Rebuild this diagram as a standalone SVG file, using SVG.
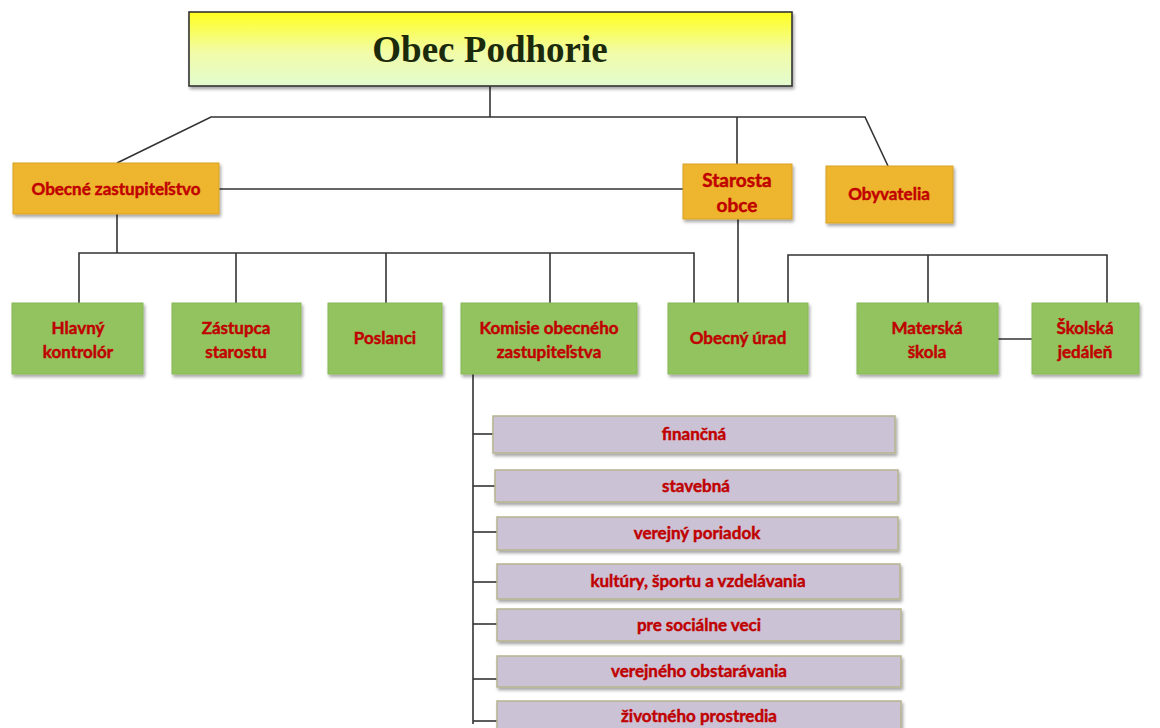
<svg xmlns="http://www.w3.org/2000/svg" width="1160" height="728" viewBox="0 0 1160 728">
<defs>
  <linearGradient id="gTitle" x1="0" y1="0" x2="0" y2="1">
    <stop offset="0" stop-color="#ffff1e"/>
    <stop offset="0.55" stop-color="#f2fca8"/>
    <stop offset="1" stop-color="#e2fbcf"/>
  </linearGradient>
  <filter id="sh" x="-10%" y="-20%" width="120%" height="150%">
    <feDropShadow dx="1.5" dy="2.5" stdDeviation="1.8" flood-color="#000" flood-opacity="0.35"/>
  </filter>
</defs>
<style>
  .ln{stroke:#333;stroke-width:1.6;fill:none}
  .org{fill:#eeb52e;stroke:#d7a227;stroke-width:1}
  .grn{fill:#92c35e;stroke:#86b856;stroke-width:1}
  .pur{fill:#cbc3d5;stroke:#b7b48e;stroke-width:1.5}
  .t{font-family:Lato,"Liberation Sans",sans-serif;font-weight:bold;fill:#c00000;stroke:#c00000;stroke-width:0.45;text-anchor:middle}
  .t17{font-size:17px}
  .t18{font-size:19px}
  .tp{font-size:17px}
  .title{font-family:"Liberation Serif",serif;font-weight:bold;font-size:37px;fill:#1c2a0c;text-anchor:middle}
</style>
<rect width="1160" height="728" fill="#fff"/>

<g id="connectors">
  <polyline class="ln" points="490,86 490,117"/>
  <polyline class="ln" points="117,163 211,117 865,117 888,166"/>
  <polyline class="ln" points="737,117 737,164"/>
  <polyline class="ln" points="219,189 683,189"/>
  <polyline class="ln" points="117,214 117,253"/>
  <polyline class="ln" points="79,303 79,253 694,253 694,303"/>
  <polyline class="ln" points="236,253 236,303"/>
  <polyline class="ln" points="386,253 386,303"/>
  <polyline class="ln" points="550,253 550,303"/>
  <polyline class="ln" points="738,219 738,303"/>
  <polyline class="ln" points="788,303 788,255 1107,255 1107,303"/>
  <polyline class="ln" points="928,255 928,303"/>
  <polyline class="ln" points="998,339 1032,339"/>
  <polyline class="ln" points="473,374 473,724"/>
  <polyline class="ln" points="473,434 493,434"/>
  <polyline class="ln" points="473,486 495,486"/>
  <polyline class="ln" points="473,532 497,532"/>
  <polyline class="ln" points="473,582 497,582"/>
  <polyline class="ln" points="473,624 497,624"/>
  <polyline class="ln" points="473,679 497,679"/>
  <polyline class="ln" points="473,721 497,721"/>
</g>

<g id="title">
  <rect x="189" y="12" width="603" height="74" fill="url(#gTitle)" stroke="#333" stroke-width="1.6" filter="url(#sh)"/>
  <text class="title" x="490" y="62">Obec Podhorie</text>
</g>

<g id="obecne-zastupitelstvo">
  <rect class="org" x="13" y="163" width="206" height="51" filter="url(#sh)"/>
  <text class="t t17" x="116" y="195">Obecné zastupiteľstvo</text>
</g>
<g id="starosta">
  <rect class="org" x="683" y="164" width="109" height="55" filter="url(#sh)"/>
  <text class="t t18" x="737" y="187">Starosta</text>
  <text class="t t18" x="737" y="212">obce</text>
</g>
<g id="obyvatelia">
  <rect class="org" x="826" y="166" width="127" height="57" filter="url(#sh)"/>
  <text class="t t17" x="889" y="200">Obyvatelia</text>
</g>

<g id="hlavny-kontrolor">
  <rect class="grn" x="12" y="303" width="131" height="71" filter="url(#sh)"/>
  <text class="t t17" x="78" y="334">Hlavný</text>
  <text class="t t17" x="78" y="358">kontrolór</text>
</g>
<g id="zastupca-starostu">
  <rect class="grn" x="172" y="303" width="129" height="71" filter="url(#sh)"/>
  <text class="t t17" x="236" y="334">Zástupca</text>
  <text class="t t17" x="236" y="358">starostu</text>
</g>
<g id="poslanci">
  <rect class="grn" x="328" y="303" width="114" height="71" filter="url(#sh)"/>
  <text class="t t17" x="385" y="344">Poslanci</text>
</g>
<g id="komisie">
  <rect class="grn" x="461" y="303" width="176" height="71" filter="url(#sh)"/>
  <text class="t t17" x="549" y="334">Komisie obecného</text>
  <text class="t t17" x="549" y="358">zastupiteľstva</text>
</g>
<g id="obecny-urad">
  <rect class="grn" x="668" y="303" width="140" height="71" filter="url(#sh)"/>
  <text class="t t17" x="738" y="344">Obecný úrad</text>
</g>
<g id="materska-skola">
  <rect class="grn" x="857" y="303" width="141" height="71" filter="url(#sh)"/>
  <text class="t t17" x="927" y="334">Materská</text>
  <text class="t t17" x="927" y="358">škola</text>
</g>
<g id="skolska-jedalen">
  <rect class="grn" x="1032" y="303" width="107" height="71" filter="url(#sh)"/>
  <text class="t t17" x="1085" y="334">Školská</text>
  <text class="t t17" x="1085" y="358">jedáleň</text>
</g>

<g id="financna">
  <rect class="pur" x="493" y="416" width="402" height="37" filter="url(#sh)"/>
  <text class="t tp" x="694" y="440">finančná</text>
</g>
<g id="stavebna">
  <rect class="pur" x="495" y="470" width="403" height="32" filter="url(#sh)"/>
  <text class="t tp" x="696" y="492">stavebná</text>
</g>
<g id="verejny-poriadok">
  <rect class="pur" x="497" y="517" width="401" height="33" filter="url(#sh)"/>
  <text class="t tp" x="697" y="539">verejný poriadok</text>
</g>
<g id="kultury">
  <rect class="pur" x="497" y="564" width="403" height="35" filter="url(#sh)"/>
  <text class="t tp" x="698" y="587">kultúry, športu a vzdelávania</text>
</g>
<g id="socialne">
  <rect class="pur" x="497" y="609" width="404" height="32" filter="url(#sh)"/>
  <text class="t tp" x="699" y="631">pre sociálne veci</text>
</g>
<g id="obstaravanie">
  <rect class="pur" x="497" y="656" width="404" height="31" filter="url(#sh)"/>
  <text class="t tp" x="699" y="677">verejného obstarávania</text>
</g>
<g id="zivotne-prostredie">
  <rect class="pur" x="497" y="701" width="404" height="34" filter="url(#sh)"/>
  <text class="t tp" x="699" y="722">životného prostredia</text>
</g>
</svg>
